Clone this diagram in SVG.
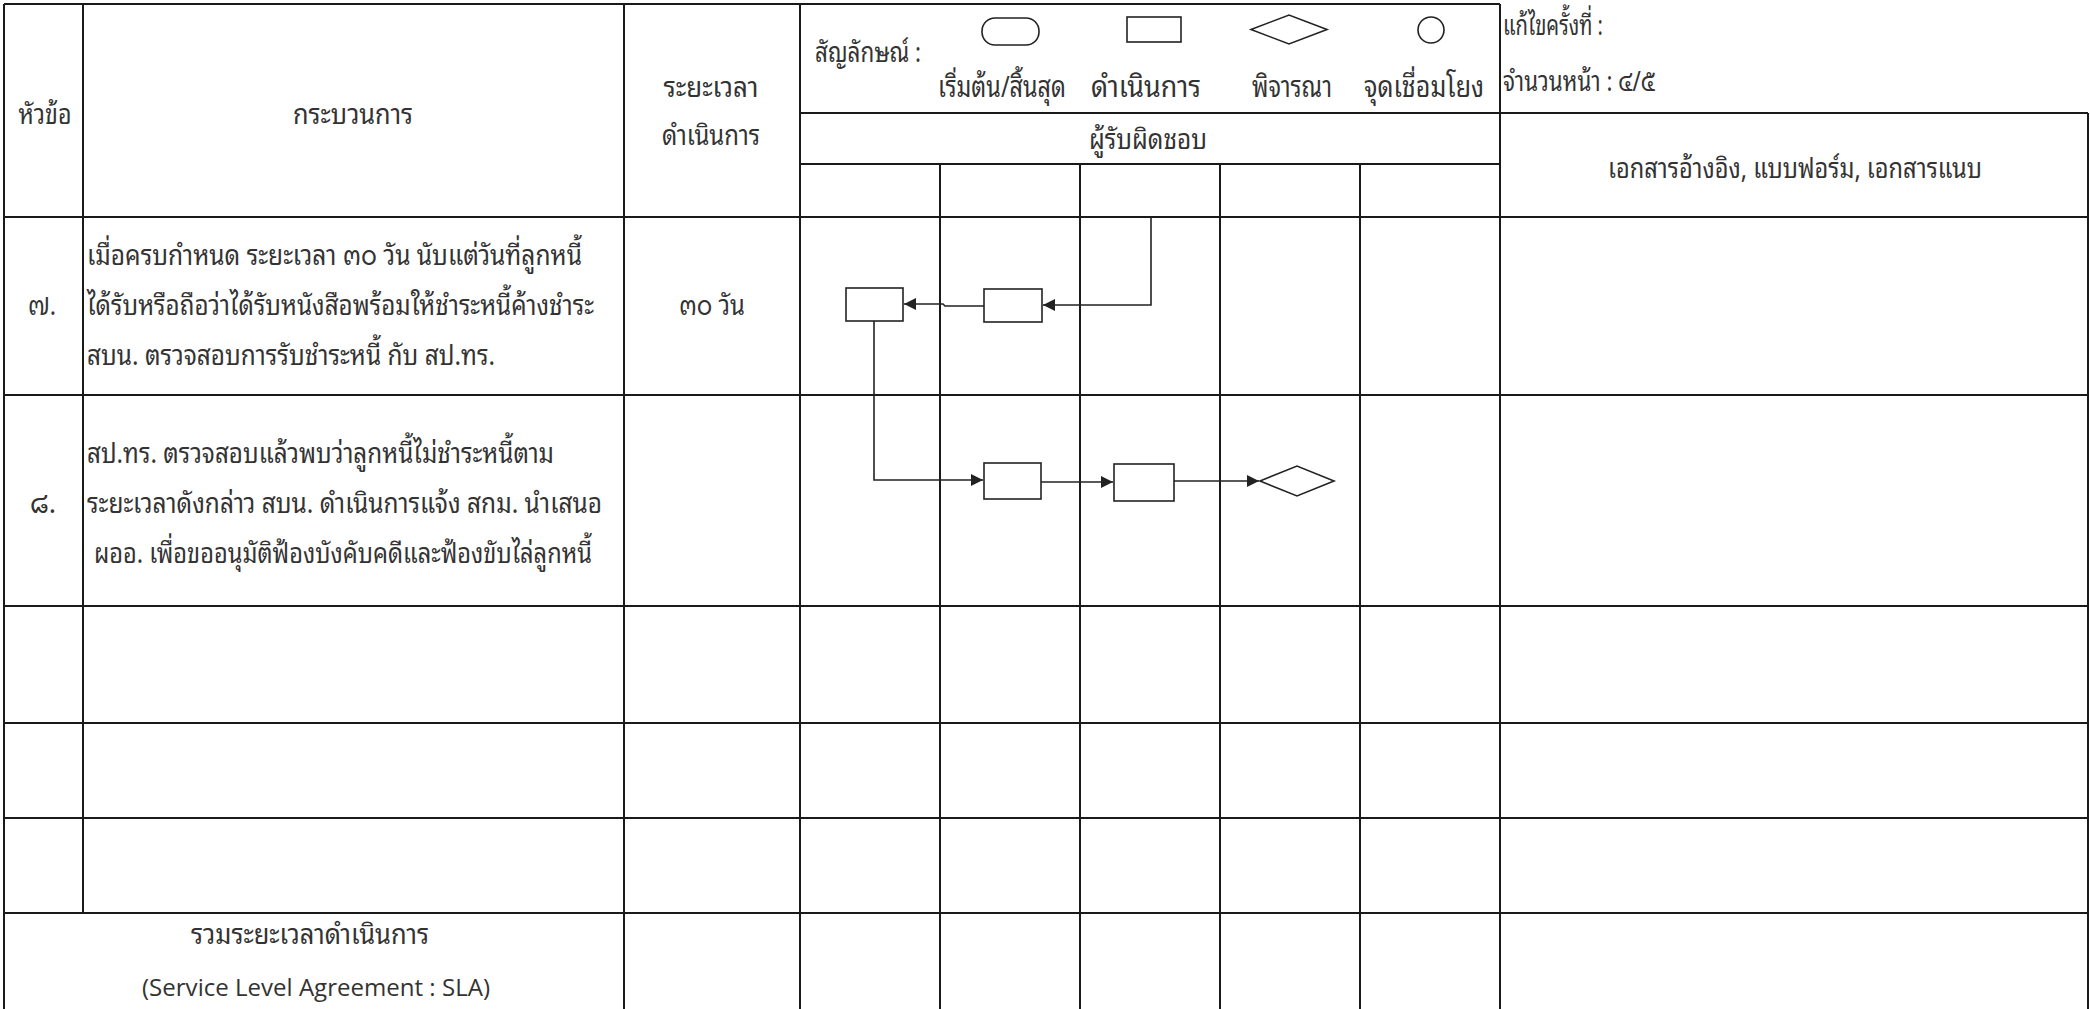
<svg xmlns="http://www.w3.org/2000/svg" width="2090" height="1009" viewBox="0 0 2090 1009">
<style>
.bg{fill:#fff}
.grid{stroke:#1a1a1a;stroke-width:2;fill:none}
.shape{stroke:#222;stroke-width:1.6;fill:#fff}
.conn{stroke:#222;stroke-width:1.6;fill:none}
text{font-family:"Noto Sans Thai Looped","Noto Sans Thai","Noto Sans","DejaVu Sans",sans-serif;fill:#333;font-size:28px}
.lg{font-size:29px}
.en{font-family:"Open Sans","Liberation Sans",sans-serif;font-size:24px}
.c{text-anchor:middle}
</style>
<defs>
<marker id="arr" markerUnits="userSpaceOnUse" markerWidth="13" markerHeight="13" refX="12" refY="6" orient="auto">
<path d="M0,0 L12,6 L0,12 z" fill="#222"/>
</marker>
</defs>
<rect class="bg" x="0" y="0" width="2090" height="1009"/>

<g id="grid">
<path class="grid" d="M4 4 H1500 M800 113 H2088 M800 164 H1500 M4 217 H2088 M4 395 H2088 M4 606 H2088 M4 723 H2088 M4 818 H2088 M4 913 H2088"/>
<path class="grid" d="M4 4 V1009 M83 4 V913 M624 4 V1009 M800 4 V1009 M940 164 V1009 M1080 164 V1009 M1220 164 V1009 M1360 164 V1009 M1500 4 V1009 M2088 113 V1009"/>
</g>

<g id="header">
<text class="c" x="45" y="124" textLength="53" lengthAdjust="spacingAndGlyphs">หัวข้อ</text>
<text class="c" x="353" y="124" textLength="120" lengthAdjust="spacingAndGlyphs">กระบวนการ</text>
<text class="c" x="711" y="97" textLength="95" lengthAdjust="spacingAndGlyphs">ระยะเวลา</text>
<text class="c" x="711" y="145" textLength="98" lengthAdjust="spacingAndGlyphs">ดำเนินการ</text>
<text x="815" y="62" textLength="106" lengthAdjust="spacingAndGlyphs">สัญลักษณ์ :</text>
<text class="c" x="1148" y="149" textLength="118" lengthAdjust="spacingAndGlyphs">ผู้รับผิดชอบ</text>
<text x="1503" y="35" textLength="100" lengthAdjust="spacingAndGlyphs">แก้ไขครั้งที่ :</text>
<text x="1503" y="91" textLength="152" lengthAdjust="spacingAndGlyphs">จำนวนหน้า : ๔/๕</text>
<text class="c" x="1795" y="178" textLength="374" lengthAdjust="spacingAndGlyphs">เอกสารอ้างอิง, แบบฟอร์ม, เอกสารแนบ</text>
</g>

<g id="legend">
<rect class="shape" x="982" y="18" width="57" height="27" rx="13" ry="13"/>
<rect class="shape" x="1127" y="17" width="54" height="25"/>
<polygon class="shape" points="1251,29.5 1289,15 1327,29.5 1289,44"/>
<circle class="shape" cx="1431" cy="30" r="13"/>
<text class="lg c" x="1002" y="97" textLength="128" lengthAdjust="spacingAndGlyphs">เริ่มต้น/สิ้นสุด</text>
<text class="lg c" x="1146" y="97" textLength="110" lengthAdjust="spacingAndGlyphs">ดำเนินการ</text>
<text class="lg c" x="1292" y="97" textLength="80" lengthAdjust="spacingAndGlyphs">พิจารณา</text>
<text class="lg c" x="1424" y="97" textLength="120" lengthAdjust="spacingAndGlyphs">จุดเชื่อมโยง</text>
</g>

<g id="row7">
<text class="c" x="42" y="315" textLength="28" lengthAdjust="spacingAndGlyphs">๗.</text>
<text x="87" y="265" textLength="495" lengthAdjust="spacingAndGlyphs">เมื่อครบกำหนด ระยะเวลา ๓๐ วัน นับแต่วันที่ลูกหนี้</text>
<text x="87" y="315" textLength="507" lengthAdjust="spacingAndGlyphs">ได้รับหรือถือว่าได้รับหนังสือพร้อมให้ชำระหนี้ค้างชำระ</text>
<text x="87" y="365" textLength="408" lengthAdjust="spacingAndGlyphs">สบน. ตรวจสอบการรับชำระหนี้ กับ สป.ทร.</text>
<text class="c" x="712" y="315" textLength="66" lengthAdjust="spacingAndGlyphs">๓๐ วัน</text>
</g>

<g id="row8">
<text class="c" x="43" y="513" textLength="26" lengthAdjust="spacingAndGlyphs">๘.</text>
<text x="87" y="463" textLength="467" lengthAdjust="spacingAndGlyphs">สป.ทร. ตรวจสอบแล้วพบว่าลูกหนี้ไม่ชำระหนี้ตาม</text>
<text x="87" y="513" textLength="515" lengthAdjust="spacingAndGlyphs">ระยะเวลาดังกล่าว สบน. ดำเนินการแจ้ง สกม. นำเสนอ</text>
<text x="94" y="563" textLength="498" lengthAdjust="spacingAndGlyphs">ผออ. เพื่อขออนุมัติฟ้องบังคับคดีและฟ้องขับไล่ลูกหนี้</text>
</g>

<g id="sla">
<text class="c" x="310" y="944" textLength="238" lengthAdjust="spacingAndGlyphs">รวมระยะเวลาดำเนินการ</text>
<text class="en c" x="316" y="996" textLength="348" lengthAdjust="spacingAndGlyphs">(Service Level Agreement : SLA)</text>
</g>

<g id="node-a"><rect class="shape" x="846" y="288" width="57" height="33"/></g>
<g id="node-b"><rect class="shape" x="984" y="289" width="58" height="33"/></g>
<g id="node-c"><rect class="shape" x="984" y="463" width="57" height="36"/></g>
<g id="node-d"><rect class="shape" x="1114" y="464" width="60" height="37"/></g>
<g id="node-e"><polygon class="shape" points="1260,481 1297,466 1334,481 1297,496"/></g>

<g id="connectors">
<path class="conn" d="M1151 217 V305 H1043" marker-end="url(#arr)"/>
<path class="conn" d="M984 306 H945 L943 304 H904" marker-end="url(#arr)"/>
<path class="conn" d="M874 321 V480 H983" marker-end="url(#arr)"/>
<path class="conn" d="M1041 482 H1113" marker-end="url(#arr)"/>
<path class="conn" d="M1174 481 H1259" marker-end="url(#arr)"/>
</g>
</svg>
